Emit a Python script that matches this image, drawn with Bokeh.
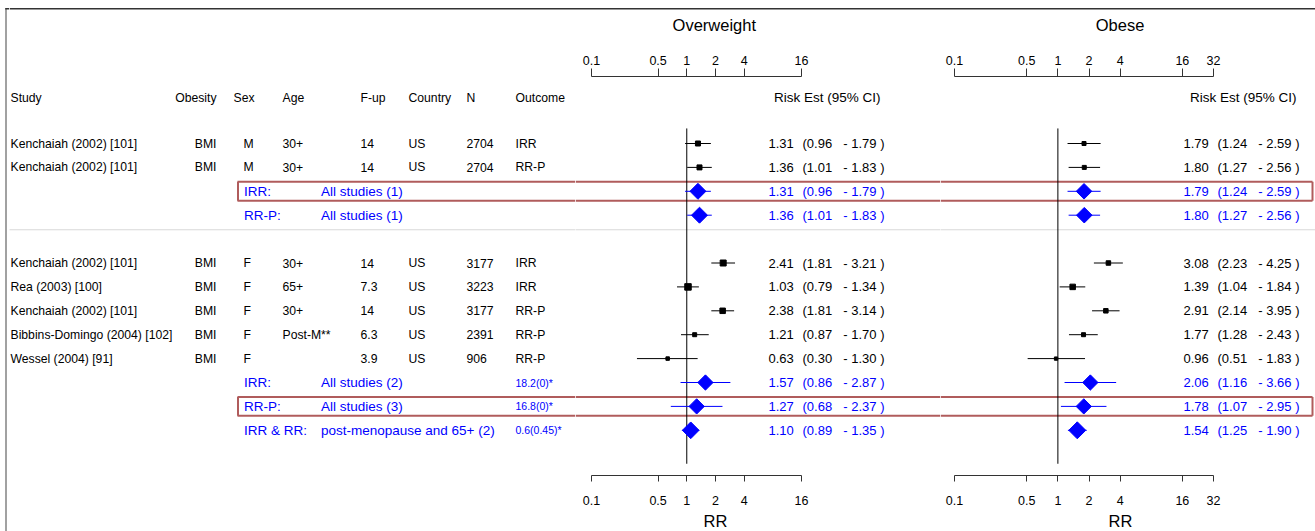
import math
from bokeh.plotting import figure
from bokeh.models import Range1d, LinearScale, LogAxis, FixedTicker, NumeralTickFormatter, ColumnDataSource
from bokeh.layouts import row, column
from bokeh.embed import file_html
from bokeh.resources import INLINE
from bokeh.core.properties import value

# ---------------- data ----------------
study_rows = [0, 1, 5, 6, 7, 8, 9]
study = ["Kenchaiah (2002) [101]", "Kenchaiah (2002) [101]", "Kenchaiah (2002) [101]",
         "Rea (2003) [100]", "Kenchaiah (2002) [101]", "Bibbins-Domingo (2004) [102]",
         "Wessel (2004) [91]"]
obesity = ["BMI", "BMI", "BMI", "BMI", "BMI", "BMI", "BMI"]
sex = ["M", "M", "F", "F", "F", "F", "F"]
age = ["30+", "30+", "30+", "65+", "30+", "Post-M**", ""]
followup = ["14", "14", "14", "7.3", "14", "6.3", "3.9"]
country = ["US", "US", "US", "US", "US", "US", "US"]
n_subj = ["2704", "2704", "3177", "3223", "3177", "2391", "906"]
outcome = ["IRR", "RR-P", "IRR", "IRR", "RR-P", "RR-P", "RR-P"]

ow_est = [1.31, 1.36, 2.41, 1.03, 2.38, 1.21, 0.63]
ow_lo = [0.96, 1.01, 1.81, 0.79, 1.81, 0.87, 0.30]
ow_hi = [1.79, 1.83, 3.21, 1.34, 3.14, 1.70, 1.30]
ob_est = [1.79, 1.80, 3.08, 1.39, 2.91, 1.77, 0.96]
ob_lo = [1.24, 1.27, 2.23, 1.04, 2.14, 1.28, 0.51]
ob_hi = [2.59, 2.56, 4.25, 1.84, 3.95, 2.43, 1.83]

sum_rows = [2, 3, 10, 11, 12]
sum_outcome = ["IRR:", "RR-P:", "IRR:", "RR-P:", "IRR & RR:"]
sum_label = ["All studies (1)", "All studies (1)", "All studies (2)", "All studies (3)",
             "post-menopause and 65+ (2)"]
sum_het = ["", "", "18.2(0)*", "16.8(0)*", "0.6(0.45)*"]
sum_ow_est = [1.31, 1.36, 1.57, 1.27, 1.10]
sum_ow_lo = [0.96, 1.01, 0.86, 0.68, 0.89]
sum_ow_hi = [1.79, 1.83, 2.87, 2.37, 1.35]
sum_ob_est = [1.79, 1.80, 2.06, 1.78, 1.54]
sum_ob_lo = [1.24, 1.27, 1.16, 1.07, 1.25]
sum_ob_hi = [2.59, 2.56, 3.66, 2.95, 1.90]
highlight_rows = [2, 11]

headers = ["Study", "Obesity", "Sex", "Age", "F-up", "Country", "N", "Outcome"]
est_header = "Risk Est (95% CI)"
panel_titles = ["Overweight", "Obese"]
x_title = "RR"
ow_ticks = [0.1, 0.5, 1, 2, 4, 16]
ow_tick_labels = ["0.1", "0.5", "1", "2", "4", "16"]
ob_ticks = [0.1, 0.5, 1, 2, 4, 16, 32]
ob_tick_labels = ["0.1", "0.5", "1", "2", "4", "16", "32"]

# ---------------- styles ----------------
ow_box_px = [5, 5, 6, 6.5, 5.5, 4, 3.5]
ob_box_px = [4, 4, 4.5, 5.5, 4.5, 4, 3.3]
ow_diamond_px = [11.3, 11.3, 10.8, 10.8, 11.8]
ob_diamond_px = [11.0, 11.0, 10.8, 10.8, 12.0]

FONT = "Liberation Sans"
BLUE = "#0000FF"
BOX_RED = "#B05C5C"
GRID_DOT = "#B0B0B0"
FRAME_GREY = "#8a8a8a"
FRAME_DARK = "#333333"

PAGE_W, PAGE_H = 1315, 531
ROW0, STEP = 143.0, 23.9          # page-pixel position of row 0 and row pitch
FRAME_TOP, FRAME_BOT = 76.0, 475.0
Y_TOP = (FRAME_TOP - ROW0) / STEP
Y_BOT = (FRAME_BOT - ROW0) / STEP
HEADER_Y = -1.92
SEP_Y = 3.61
BOX_HALF = 0.395

LBAR_W = 9
F1_L, F2_L, F3_L, F_R = LBAR_W, 575, 940, PAGE_W
ROW_TOP = 48
MB_TOP = int(FRAME_TOP - ROW_TOP)
MB_BOT = 36
ROW_H = MB_TOP + int(FRAME_BOT - FRAME_TOP) + MB_BOT
BOT_TOP = ROW_TOP + ROW_H


def log_range(x_a, v_a, x_b, v_b, left, right):
    ppd = (x_b - x_a) / (math.log10(v_b) - math.log10(v_a))
    s = math.log10(v_a) - (x_a - left) / ppd
    e = math.log10(v_a) + (right - x_a) / ppd
    return Range1d(10 ** s, 10 ** e)


def base_fig(width, height, x_range, y_range, log=False, mb_top=0, mb_bot=0):
    p = figure(width=width, height=height, x_range=x_range, y_range=y_range,
               x_axis_type="log" if log else "linear",
               x_axis_location=None, y_axis_location=None,
               toolbar_location=None, output_backend="svg",
               min_border_top=mb_top, min_border_bottom=mb_bot,
               min_border_left=0, min_border_right=0,
               outline_line_color=None, border_fill_color="white",
               background_fill_color="white")
    p.grid.visible = False
    return p


def txt(p, x, y, text, size, color="black", align="left", baseline="middle", xname="default"):
    src = ColumnDataSource(dict(x=x, y=y, text=text))
    p.text(x="x", y="y", text="text", source=src, text_font=value(FONT),
           text_font_size=size, text_color=color, text_align=align,
           text_baseline=baseline, x_range_name=xname)


def box_and_sep(p, x0, x1, xname="default"):
    ys = [r - BOX_HALF for r in highlight_rows] + [r + BOX_HALF for r in highlight_rows]
    p.segment(x0=[x0] * len(ys), x1=[x1] * len(ys), y0=ys, y1=ys,
              line_color=BOX_RED, line_width=2, x_range_name=xname)
    p.segment(x0=[x0], x1=[x1], y0=[SEP_Y], y1=[SEP_Y], line_color=GRID_DOT,
              line_width=1, line_dash="1 1", x_range_name=xname)


def box_side(p, x, xname="default"):
    p.segment(x0=[x] * len(highlight_rows), x1=[x] * len(highlight_rows),
              y0=[r - BOX_HALF for r in highlight_rows], y1=[r + BOX_HALF for r in highlight_rows],
              line_color=BOX_RED, line_width=2, x_range_name=xname)


yr = Range1d(Y_BOT, Y_TOP)

# ---------------- left frame strip ----------------
lbar = base_fig(LBAR_W, PAGE_H, Range1d(0, LBAR_W), Range1d(PAGE_H, 0))
lbar.segment(x0=[5.5], x1=[5.5], y0=[8], y1=[PAGE_H], line_color=FRAME_GREY, line_width=1.6)
lbar.segment(x0=[4.7], x1=[LBAR_W], y0=[8.3], y1=[8.3], line_color=FRAME_DARK, line_width=1.6)

# ---------------- table figure ----------------
f1 = base_fig(F2_L - F1_L, ROW_H, Range1d(F1_L, F2_L), yr, mb_top=MB_TOP, mb_bot=MB_BOT)
hx = [10, 216, 233, 282, 360, 408, 466, 515]
halign = ["left", "right", "left", "left", "left", "left", "left", "left"]
for x, t, a in zip(hx, headers, halign):
    txt(f1, [x], [HEADER_Y], [t], "12.2px", align=a)
cols = [(10, study, "left"), (216, obesity, "right"), (243, sex, "left"), (282, age, "left"),
        (360, followup, "left"), (408, country, "left"), (466, n_subj, "left"),
        (515, outcome, "left")]
for x, vals, a in cols:
    txt(f1, [x] * len(vals), study_rows, vals, "12.2px", align=a)
txt(f1, [243.5] * 5, sum_rows, sum_outcome, "13.5px", color=BLUE)
txt(f1, [320.5] * 5, sum_rows, sum_label, "13.5px", color=BLUE)
txt(f1, [515] * 5, sum_rows, sum_het, "10.5px", color=BLUE)
box_and_sep(f1, 237, F2_L)
box_side(f1, 237.5)
f1.segment(x0=[F1_L], x1=[237], y0=[SEP_Y], y1=[SEP_Y], line_color=GRID_DOT,
           line_width=1, line_dash="1 1")


# ---------------- forest panels ----------------
def panel(left, right, xr, ticks, tick_labels, est, lo, hi, box_px,
          s_est, s_lo, s_hi, dia_px, est_x, paren_x, hi_x, hdr_x, box_right=None):
    p = base_fig(right - left, ROW_H, xr, yr, log=True, mb_top=MB_TOP, mb_bot=MB_BOT)
    p.extra_x_ranges = {"px": Range1d(left, right)}
    p.extra_x_scales = {"px": LinearScale()}
    box_and_sep(p, left, right if box_right is None else box_right, "px")
    if box_right is not None:
        box_side(p, box_right, "px")
        p.segment(x0=[box_right], x1=[right], y0=[SEP_Y], y1=[SEP_Y], line_color=GRID_DOT,
                  line_width=1, line_dash="1 1", x_range_name="px")
    # null line
    p.segment(x0=[1], x1=[1], y0=[-0.63], y1=[13.4], line_color="black", line_width=1)
    # studies
    p.segment(x0=lo, x1=hi, y0=study_rows, y1=study_rows, line_color="black", line_width=1)
    p.scatter(x=est, y=study_rows, marker="square", size=box_px, color="black")
    # summaries
    p.segment(x0=s_lo, x1=s_hi, y0=sum_rows, y1=sum_rows, line_color=BLUE, line_width=1)
    p.scatter(x=s_est, y=sum_rows, marker="square", angle=math.pi / 4, size=dia_px, color=BLUE)
    # estimate text
    txt(p, [hdr_x], [HEADER_Y], [est_header], "13.5px", align="right", xname="px")
    for rows_, e_, l_, h_, c in ((study_rows, est, lo, hi, "black"),
                                 (sum_rows, s_est, s_lo, s_hi, BLUE)):
        txt(p, [est_x] * len(rows_), rows_, [f"{v:.2f}" for v in e_], "13px", color=c, xname="px")
        txt(p, [paren_x] * len(rows_), rows_, [f"({v:.2f}" for v in l_], "13px", color=c, xname="px")
        txt(p, [hi_x] * len(rows_), rows_, [f"- {v:.2f} )" for v in h_], "13px", color=c,
            align="right", xname="px")
    for loc, tout, stand in (("above", 8, 4), ("below", 6, 14)):
        ax = LogAxis(ticker=FixedTicker(ticks=ticks), bounds=(ticks[0], ticks[-1]),
                     formatter=NumeralTickFormatter(format="0.[0]"),
                     major_label_overrides=dict(zip(ticks, tick_labels)))
        ax.axis_line_color = FRAME_DARK
        ax.major_tick_line_color = FRAME_DARK
        ax.major_tick_out = tout
        ax.major_tick_in = 0
        ax.minor_tick_line_color = None
        ax.major_label_standoff = stand
        ax.major_label_text_font = FONT
        ax.major_label_text_font_size = "12.5px"
        ax.major_label_text_color = "black"
        p.add_layout(ax, loc)
    return p


f2 = panel(F2_L, F3_L, log_range(591, 0.1, 801, 16, F2_L, F3_L), ow_ticks, ow_tick_labels,
           ow_est, ow_lo, ow_hi, ow_box_px, sum_ow_est, sum_ow_lo, sum_ow_hi, ow_diamond_px,
           768, 802, 884, 880)
f3 = panel(F3_L, F_R, log_range(954, 0.1, 1213, 32, F3_L, F_R), ob_ticks, ob_tick_labels,
           ob_est, ob_lo, ob_hi, ob_box_px, sum_ob_est, sum_ob_lo, sum_ob_hi, ob_diamond_px,
           1183, 1217, 1299, 1296, box_right=1312)

# ---------------- top strip (frame line + panel titles) ----------------
top = base_fig(F_R - F1_L, ROW_TOP, Range1d(F1_L, F_R), Range1d(ROW_TOP, 0))
top.segment(x0=[F1_L], x1=[F_R], y0=[8.3], y1=[8.3], line_color=FRAME_DARK, line_width=1.6)
txt(top, [713.8, 1119.5], [24, 24], panel_titles, "16.5px", align="center")

# ---------------- bottom strip (x title) ----------------
bot = base_fig(F_R - F1_L, PAGE_H - BOT_TOP, Range1d(F1_L, F_R), Range1d(PAGE_H, BOT_TOP))
txt(bot, [715, 1120], [520.5, 520.5], [x_title, x_title], "16.5px", align="center")

layout = row(lbar, column(top, row(f1, f2, f3), bot))
open("out.html", "w").write(file_html(layout, INLINE))
